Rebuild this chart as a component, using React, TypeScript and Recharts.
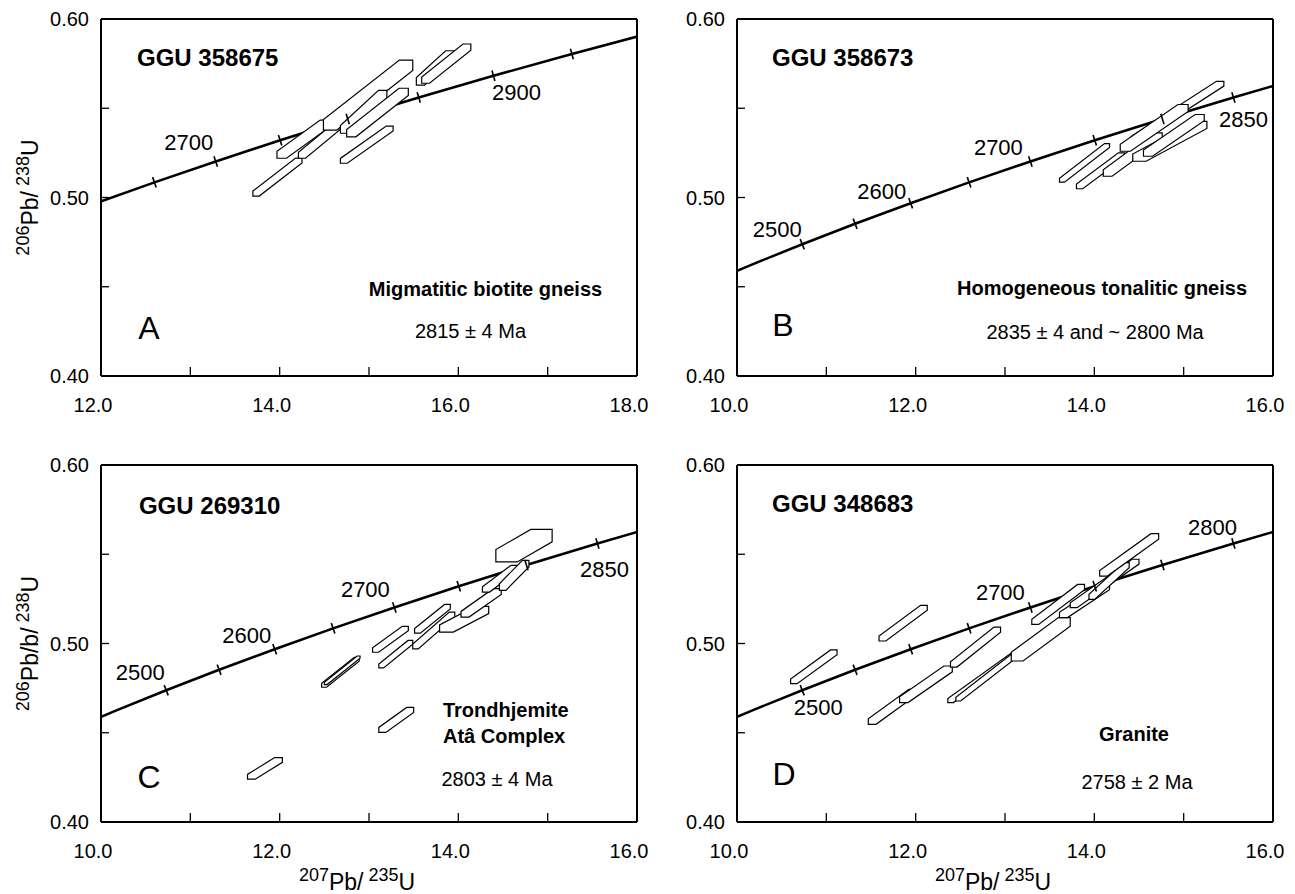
import React from "react";
import { ComposedChart, Line, XAxis, YAxis, ReferenceArea, ReferenceDot } from "recharts";

const FONT = '"Liberation Sans", Arial, Helvetica, sans-serif';

// concordia: age (Ma), 207Pb/235U, 206Pb/238U
const concordiaAge = [2400, 2450, 2500, 2550, 2600, 2650, 2700, 2750, 2800, 2850, 2900, 2950, 3000];
const concordia75 = [9.63, 10.166, 10.73, 11.322, 11.944, 12.598, 13.284, 14.005, 14.762, 15.557, 16.393, 17.271, 18.193];
const concordia68 = [0.4511, 0.4624, 0.4738, 0.4853, 0.4968, 0.5085, 0.5202, 0.5321, 0.544, 0.556, 0.5682, 0.5804, 0.5927];
const markedAges = [2500, 2550, 2600, 2650, 2700, 2750, 2800, 2850, 2900, 2950];

const yTicks = [0.4, 0.45, 0.5, 0.55, 0.6];
const xTicksA = [12, 13, 14, 15, 16, 17, 18];
const xTicksBCD = [10, 11, 12, 13, 14, 15, 16];

// error polygons: 207/235 min, max, 206/238 min, max, band
const shapesA = [
  [13.7, 14.25, 0.5008, 0.5221, 0.13],
  [13.97, 14.56, 0.522, 0.5434, 0.18],
  [14.21, 15.2, 0.522, 0.563, 0.08],
  [14.49, 15.49, 0.5378, 0.577, 0.15],
  [14.68, 15.27, 0.5192, 0.54, 0.13],
  [14.68, 15.2, 0.536, 0.56, 0.18],
  [14.75, 15.44, 0.534, 0.5612, 0.15],
  [15.53, 15.95, 0.563, 0.5822, 0.22],
  [15.59, 16.14, 0.564, 0.586, 0.16],
];
const shapesB = [
  [13.61, 14.17, 0.5086, 0.5302, 0.1],
  [13.8, 14.34, 0.5049, 0.525, 0.13],
  [14.1, 14.76, 0.5119, 0.5362, 0.15],
  [14.41, 15.45, 0.5315, 0.5651, 0.08],
  [14.29, 15.05, 0.5259, 0.5521, 0.15],
  [14.43, 15.26, 0.5203, 0.5427, 0.18],
  [14.55, 15.23, 0.5231, 0.5465, 0.15],
];
const shapesC = [
  [11.64, 12.03, 0.424, 0.4361, 0.22],
  [13.11, 13.5, 0.4502, 0.4642, 0.2],
  [12.47, 12.89, 0.4755, 0.4923, 0.13],
  [12.5, 12.9, 0.477, 0.493, 0.08],
  [13.11, 13.49, 0.4863, 0.5017, 0.14],
  [13.04, 13.44, 0.4951, 0.5096, 0.17],
  [13.49, 13.96, 0.497, 0.5176, 0.13],
  [13.51, 13.91, 0.5058, 0.5219, 0.16],
  [13.79, 14.34, 0.5064, 0.5208, 0.28],
  [14.03, 14.48, 0.5148, 0.5307, 0.2],
  [14.27, 14.67, 0.5288, 0.5438, 0.2],
  [14.46, 14.79, 0.5298, 0.5466, 0.22],
  [14.42, 15.05, 0.5457, 0.5639, 0.38],
];
const shapesD = [
  [10.6, 11.12, 0.4775, 0.4964, 0.14],
  [11.59, 12.13, 0.5014, 0.5214, 0.14],
  [11.47, 12.01, 0.4547, 0.4743, 0.16],
  [11.82, 12.41, 0.4669, 0.4874, 0.16],
  [12.39, 12.95, 0.4868, 0.5092, 0.13],
  [12.36, 13.14, 0.4669, 0.4949, 0.08],
  [12.45, 13.21, 0.4678, 0.4973, 0.07],
  [13.07, 13.73, 0.4902, 0.5145, 0.2],
  [13.3, 13.89, 0.5107, 0.5331, 0.13],
  [13.61, 14.17, 0.5145, 0.5331, 0.16],
  [13.73, 14.5, 0.5201, 0.5472, 0.1],
  [13.94, 14.39, 0.5247, 0.5453, 0.14],
  [14.06, 14.72, 0.5378, 0.5615, 0.13],
];

// age labels on the concordia: tick age, text
const curveLabelsA: [number, string][] = [[2700, "2700"], [2900, "2900"]];
const curveLabelsB: [number, string][] = [[2500, "2500"], [2600, "2600"], [2700, "2700"], [2850, "2850"]];
const curveLabelsC: [number, string][] = [[2500, "2500"], [2600, "2600"], [2700, "2700"], [2850, "2850"]];
const curveLabelsD: [number, string][] = [[2500, "2500"], [2700, "2700"], [2850, "2800"]];

const concordia = concordiaAge.map((age, i) => ({ age, x: concordia75[i], y: concordia68[i] }));

type Note = { text: string; x: number; y: number; anchor: string; size: number; bold?: boolean };

function hexShape(band: number) {
  return (p: any) => {
    const { x, y, width: w, height: h } = p;
    const pts = [
      [x, y + h],
      [x + band * w, y + h],
      [x + w, y + band * h],
      [x + w, y],
      [x + w - band * w, y],
      [x, y + h - band * h],
    ];
    return (
      <polygon
        points={pts.map((q) => q.join(",")).join(" ")}
        fill="#fff"
        stroke="#000"
        strokeWidth={1.2}
      />
    );
  };
}

function XTick(props: any) {
  const { x, y, payload } = props;
  const v = payload.value;
  return (
    <g>
      <line x1={x} x2={x} y1={y} y2={y - 9} stroke="#000" strokeWidth={1.3} />
      {Math.round(v) % 2 === 0 && (
        <text x={x - 8} y={y + 29} textAnchor="middle" dominantBaseline="central" fontSize={20} fontFamily={FONT} fill="#000">
          {v.toFixed(1)}
        </text>
      )}
    </g>
  );
}

function YTick(props: any) {
  const { x, y, payload } = props;
  const v = payload.value;
  return (
    <g>
      <line x1={x} x2={x + 8} y1={y} y2={y} stroke="#000" strokeWidth={1.3} />
      {Math.round(v * 100) % 10 === 0 && (
        <text x={x - 12} y={y} textAnchor="end" dominantBaseline="central" fontSize={20} fontFamily={FONT} fill="#000">
          {v.toFixed(2)}
        </text>
      )}
    </g>
  );
}

function ratioText(a: string, b: string, c: string, d: string) {
  return [
    <tspan key="a" fontSize={18} dy={-9}>{a}</tspan>,
    <tspan key="b" fontSize={23} dy={9}>{b}</tspan>,
    <tspan key="c" fontSize={18} dy={-9}>{" " + c}</tspan>,
    <tspan key="d" fontSize={23} dy={9}>{d}</tspan>,
  ];
}

type PanelProps = {
  left: number;
  top: number;
  height: number;
  xDomain: [number, number];
  xTicks: number[];
  shapes: number[][];
  curveLabels: [number, string][];
  labelOffsets: Record<number, [number, number]>;
  notes: Note[];
  yLabel?: string;
  xLabel?: boolean;
  tickSlope: number;
};

const axisStroke = { stroke: "#000", strokeWidth: 2 };

function Panel(p: PanelProps) {
  const renderDot = (d: any) => {
    const { cx, cy, index, points, payload } = d;
    const key = `t${index}`;
    if (!markedAges.includes(payload.age) || payload.x < p.xDomain[0] || payload.x > p.xDomain[1]) return <g key={key} />;
    let dx = 1;
    let dy = p.tickSlope;
    if (points && points[index - 1] && points[index + 1]) {
      dx = points[index + 1].x - points[index - 1].x;
      dy = points[index + 1].y - points[index - 1].y;
    }
    const len = Math.hypot(dx, dy) || 1;
    const nx = (-dy / len) * 5.5;
    const ny = (dx / len) * 5.5;
    const lab = p.curveLabels.find((l) => l[0] === payload.age);
    const off = lab ? p.labelOffsets[payload.age] : [0, 0];
    return (
      <g key={key}>
        <line x1={cx - nx} y1={cy - ny} x2={cx + nx} y2={cy + ny} stroke="#000" strokeWidth={1.6} />
        {lab && (
          <text x={cx + off[0]} y={cy + off[1]} textAnchor="middle" dominantBaseline="central" fontSize={22} fontFamily={FONT} fill="#000">
            {lab[1]}
          </text>
        )}
      </g>
    );
  };

  return (
    <div style={{ position: "absolute", left: p.left, top: p.top }}>
      <ComposedChart
        width={660}
        height={p.height}
        data={concordia}
        margin={{ top: 18, left: 100, right: 22, bottom: p.height - 19 - 357 - 1 }}
      >
        <XAxis
          dataKey="x"
          type="number"
          domain={p.xDomain}
          ticks={p.xTicks}
          interval={0}
          allowDataOverflow
          height={1}
          tickSize={0}
          tickMargin={0}
          tickLine={false}
          axisLine={axisStroke}
          tick={(t: any) => <XTick {...t} />}
          label={
            p.xLabel
              ? {
                  content: (lp: any) => {
                    const vb = lp.viewBox;
                    return (
                      <text x={vb.x + vb.width / 2 - 12} y={vb.y + 68} textAnchor="middle" fontFamily={FONT} fill="#000">
                        {ratioText("207", "Pb/", "235", "U")}
                      </text>
                    );
                  },
                }
              : undefined
          }
        />
        <XAxis
          xAxisId="top"
          orientation="top"
          type="number"
          domain={p.xDomain}
          allowDataOverflow
          height={1}
          tick={false}
          tickLine={false}
          axisLine={axisStroke}
        />
        <YAxis
          type="number"
          domain={[0.4, 0.6]}
          ticks={yTicks}
          interval={0}
          allowDataOverflow
          width={1}
          tickSize={0}
          tickMargin={0}
          tickLine={false}
          axisLine={axisStroke}
          tick={(t: any) => <YTick {...t} />}
          label={
            p.yLabel
              ? {
                  content: (lp: any) => {
                    const vb = lp.viewBox;
                    const cx = vb.x + vb.width - 63;
                    const cy = vb.y + vb.height / 2;
                    return (
                      <text transform={`translate(${cx},${cy}) rotate(-90)`} textAnchor="middle" fontFamily={FONT} fill="#000">
                        {ratioText("206", p.yLabel as string, "238", "U")}
                      </text>
                    );
                  },
                }
              : undefined
          }
        />
        <YAxis
          yAxisId="right"
          orientation="right"
          type="number"
          domain={[0.4, 0.6]}
          allowDataOverflow
          width={1}
          tick={false}
          tickLine={false}
          axisLine={axisStroke}
        />
        <Line
          dataKey="y"
          type="monotone"
          stroke="#000"
          strokeWidth={2.5}
          dot={renderDot}
          activeDot={false}
          isAnimationActive={false}
          zIndex={400}
        />
        {p.shapes.map((s, i) => (
          <ReferenceArea
            key={`s${i}`}
            x1={s[0]}
            x2={s[1]}
            y1={s[2]}
            y2={s[3]}
            ifOverflow="visible"
            shape={hexShape(s[4])}
            zIndex={450}
          />
        ))}
        {p.notes.map((n, i) => (
          <ReferenceDot
            key={`n${i}`}
            x={n.x}
            y={n.y}
            r={0}
            ifOverflow="visible"
            zIndex={600}
            shape={(d: any) => (
              <text
                x={d.cx}
                y={d.cy}
                textAnchor={n.anchor}
                dominantBaseline="central"
                fontSize={n.size}
                fontWeight={n.bold ? 700 : 400}
                fontFamily={FONT}
                fill="#000"
              >
                {n.text}
              </text>
            )}
          />
        ))}
      </ComposedChart>
    </div>
  );
}

export default function App() {
  return (
    <div style={{ position: "absolute", left: 0, top: 0, width: 1295, height: 894, overflow: "hidden", background: "#fff" }}>
      <Panel
        left={0}
        top={0}
        height={440}
        xDomain={[12, 18]}
        xTicks={xTicksA}
        shapes={shapesA}
        curveLabels={curveLabelsA}
        labelOffsets={{ 2700: [-27, -19], 2900: [23, 17] }}
        tickSlope={-0.3}
        yLabel="Pb/"
        notes={[
          { text: "GGU 358675", x: 12.403, y: 0.5787, anchor: "start", size: 24, bold: true },
          { text: "Migmatitic biotite gneiss", x: 16.304, y: 0.4487, anchor: "middle", size: 20, bold: true },
          { text: "2815 ± 4 Ma", x: 16.136, y: 0.4252, anchor: "middle", size: 20 },
          { text: "A", x: 12.537, y: 0.4269, anchor: "middle", size: 32 },
        ]}
      />
      <Panel
        left={636}
        top={0}
        height={440}
        xDomain={[10, 16]}
        xTicks={xTicksBCD}
        shapes={shapesB}
        curveLabels={curveLabelsB}
        labelOffsets={{ 2500: [-25, -15], 2600: [-29, -12], 2700: [-32, -14], 2850: [10, 22] }}
        tickSlope={-0.4}
        notes={[
          { text: "GGU 358673", x: 10.392, y: 0.5787, anchor: "start", size: 24, bold: true },
          { text: "Homogeneous tonalitic gneiss", x: 14.086, y: 0.4493, anchor: "middle", size: 20, bold: true },
          { text: "2835 ± 4 and ~ 2800 Ma", x: 14.008, y: 0.4246, anchor: "middle", size: 20 },
          { text: "B", x: 10.515, y: 0.4286, anchor: "middle", size: 32 },
        ]}
      />
      <Panel
        left={0}
        top={446}
        height={448}
        xDomain={[10, 16]}
        xTicks={xTicksBCD}
        shapes={shapesC}
        curveLabels={curveLabelsC}
        labelOffsets={{ 2500: [-26, -18], 2600: [-28, -14], 2700: [-29, -18], 2850: [7, 26] }}
        tickSlope={-0.4}
        yLabel="Pb/b/"
        xLabel
        notes={[
          { text: "GGU 269310", x: 10.425, y: 0.5771, anchor: "start", size: 24, bold: true },
          { text: "Trondhjemite", x: 13.828, y: 0.4626, anchor: "start", size: 20, bold: true },
          { text: "Atâ Complex", x: 13.828, y: 0.448, anchor: "start", size: 20, bold: true },
          { text: "2803 ± 4 Ma", x: 14.433, y: 0.424, anchor: "middle", size: 20 },
          { text: "C", x: 10.537, y: 0.4251, anchor: "middle", size: 32 },
        ]}
      />
      <Panel
        left={636}
        top={446}
        height={448}
        xDomain={[10, 16]}
        xTicks={xTicksBCD}
        shapes={shapesD}
        curveLabels={curveLabelsD}
        labelOffsets={{ 2500: [16, 17], 2700: [-30, -15], 2850: [-21, -16] }}
        tickSlope={-0.4}
        xLabel
        notes={[
          { text: "GGU 348683", x: 10.392, y: 0.5782, anchor: "start", size: 24, bold: true },
          { text: "Granite", x: 14.444, y: 0.4492, anchor: "middle", size: 20, bold: true },
          { text: "2758 ± 2 Ma", x: 14.478, y: 0.4223, anchor: "middle", size: 20 },
          { text: "D", x: 10.526, y: 0.4268, anchor: "middle", size: 32 },
        ]}
      />
    </div>
  );
}
